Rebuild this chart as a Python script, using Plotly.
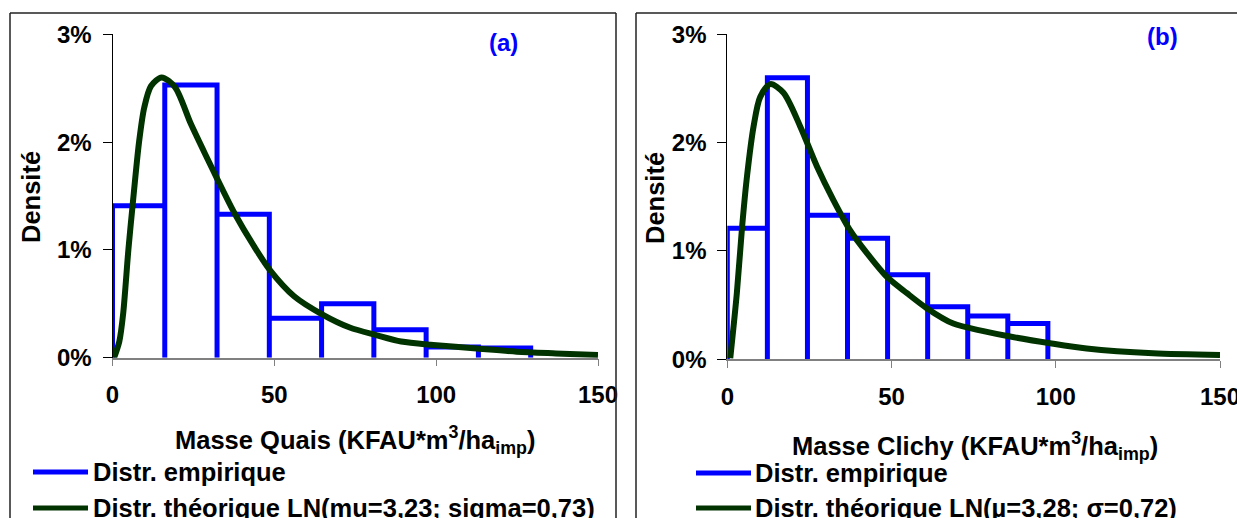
import plotly.graph_objects as go

W, H = 1237, 518

# ---------------- data ----------------
edges_a = [0, 16.15, 32.3, 48.45, 64.6, 80.75, 96.9, 113.05, 129.2]
dens_a = [0.0141, 0.0253, 0.0133, 0.00365, 0.0050, 0.0026, 0.0010, 0.0009]

edges_b = [0, 12.2, 24.4, 36.6, 48.8, 61.0, 73.2, 85.4, 97.6]
dens_b = [0.0121, 0.0260, 0.0133, 0.01117, 0.0078, 0.00486, 0.0040, 0.0033]

curve_a_x = [0.5, 2.1, 3.3, 4.9, 6.2, 8.2, 9.8, 11.9, 15.2, 19.3, 24.2, 29.1, 32.5,
             37.7, 43.8, 48.7, 56.1, 64.9, 73.3, 81.4, 89.2, 99.1, 112.5, 124.9, 137, 150]
curve_a_y = [0.0000, 0.0015, 0.0041, 0.0100, 0.0141, 0.0200, 0.0232, 0.0252, 0.0260,
             0.0251, 0.0217, 0.0186, 0.0165, 0.0134, 0.0103, 0.0081, 0.0057, 0.0040,
             0.0028, 0.0021, 0.0015, 0.00118, 0.00085, 0.00056, 0.0004, 0.00025]

curve_b_x = [0.9, 2.9, 4.5, 6.0, 8.0, 10.0, 13.1, 17.1, 22.2, 27.3, 32.3, 37.4, 42.5,
             48.6, 54.7, 60.8, 68.8, 78.0, 86.1, 98.3, 109.4, 129.6, 150]
curve_b_y = [0.0001, 0.0061, 0.0122, 0.0169, 0.0215, 0.0242, 0.0254, 0.0246, 0.0215,
             0.0178, 0.0147, 0.0119, 0.0098, 0.0076, 0.0061, 0.0047, 0.0033, 0.0026,
             0.0021, 0.00148, 0.0010, 0.00055, 0.0004]

x_ticks = [0, 50, 100, 150]
y_ticks = [0, 0.01, 0.02, 0.03]

label_a = "(a)"
label_b = "(b)"
xtitle_a = "Masse Quais (KFAU*m<sup>3</sup>/ha<sub>imp</sub>)"
xtitle_b = "Masse Clichy (KFAU*m<sup>3</sup>/ha<sub>imp</sub>)"
ytitle = "Densité"
leg_emp = "Distr. empirique"
leg_th_a = "Distr. théorique LN(mu=3,23; sigma=0,73)"
leg_th_b = "Distr. théorique LN(µ=3,28; σ=0,72)"

BLUE = "#0000FF"
GREEN = "#003300"
FONT = "Liberation Sans, Arial, sans-serif"


def step_path(edges, dens):
    xs, ys = [edges[0]], [0]
    for i, d in enumerate(dens):
        xs += [edges[i], edges[i + 1], edges[i + 1]]
        ys += [d, d, 0]
    return xs, ys


def px(x):
    return x / W


def py(y):
    return 1 - y / H


fig = go.Figure()

ha_x, ha_y = step_path(edges_a, dens_a)
hb_x, hb_y = step_path(edges_b, dens_b)

fig.add_trace(go.Scatter(x=ha_x, y=ha_y, mode="lines", line=dict(color=BLUE, width=5),
                         xaxis="x", yaxis="y", cliponaxis=False, showlegend=False))
fig.add_trace(go.Scatter(x=curve_a_x, y=curve_a_y, mode="lines",
                         line=dict(color=GREEN, width=6, shape="spline", smoothing=0.8),
                         xaxis="x", yaxis="y", cliponaxis=False, showlegend=False))
fig.add_trace(go.Scatter(x=hb_x, y=hb_y, mode="lines", line=dict(color=BLUE, width=5),
                         xaxis="x2", yaxis="y2", cliponaxis=False, showlegend=False))
fig.add_trace(go.Scatter(x=curve_b_x, y=curve_b_y, mode="lines",
                         line=dict(color=GREEN, width=6, shape="spline", smoothing=0.8),
                         xaxis="x2", yaxis="y2", cliponaxis=False, showlegend=False))

tickfont = dict(family=FONT, size=24, color="black", weight="bold")

xa_common = dict(range=[0, 150], tickvals=x_ticks, ticks="outside", ticklen=7,
                 tickcolor="#808080", showline=True, linecolor="#808080", linewidth=1.5,
                 showgrid=False, zeroline=False, tickfont=tickfont, ticklabelstandoff=8,
                 ticklabeloverflow="allow", fixedrange=True, automargin=False)
ya_common = dict(range=[0, 0.03], tickvals=y_ticks, tickformat=".0%", ticks="outside",
                 ticklen=9, tickcolor="black", showline=True, linecolor="black",
                 linewidth=1, showgrid=False, zeroline=False, tickfont=tickfont,
                 ticklabelstandoff=6, ticklabeloverflow="allow", fixedrange=True,
                 automargin=False)

fig.update_layout(
    width=W, height=H,
    autosize=False,
    margin=dict(l=0, r=0, t=0, b=0, pad=0, autoexpand=False),
    paper_bgcolor="white", plot_bgcolor="white",
    showlegend=False,
    xaxis=dict(domain=[px(112.5), px(598)], anchor="y", **xa_common),
    yaxis=dict(domain=[py(357.7), py(34.3)], anchor="x", **ya_common),
    xaxis2=dict(domain=[px(727.3), px(1220)], anchor="y2", **xa_common),
    yaxis2=dict(domain=[py(359.3), py(34.3)], anchor="x2", **ya_common),
)

shapes = []
# frames
fr = dict(type="line", xref="paper", yref="paper", line=dict(color="#222222", width=1.5))
shapes.append(dict(fr, x0=px(10), x1=px(10), y0=py(13), y1=py(530)))
shapes.append(dict(fr, x0=px(10), x1=px(616), y0=py(13), y1=py(13)))
shapes.append(dict(fr, x0=px(616), x1=px(616), y0=py(13), y1=py(530)))
shapes.append(dict(fr, x0=px(636), x1=px(636), y0=py(13), y1=py(530)))
shapes.append(dict(fr, x0=px(636), x1=px(1245), y0=py(13), y1=py(13)))

# legend glyphs
def leg_line(x0, x1, y, color):
    return dict(type="line", xref="paper", yref="paper", x0=px(x0), x1=px(x1),
                y0=py(y), y1=py(y), line=dict(color=color, width=5))

shapes += [leg_line(33, 88, 472, BLUE), leg_line(33, 88, 508, GREEN),
           leg_line(696, 751, 473, BLUE), leg_line(696, 751, 508, GREEN)]
fig.update_layout(shapes=shapes)

def ann(text, x, y, xanchor="center", yanchor="middle", color="black", size=25.5, angle=0):
    return dict(text=text, x=px(x), y=py(y), xref="paper", yref="paper",
                xanchor=xanchor, yanchor=yanchor, showarrow=False, textangle=angle,
                font=dict(family=FONT, size=size, color=color, weight="bold"))

annotations = [
    ann(label_a, 503, 43, color=BLUE, size=24),
    ann(label_b, 1162, 37, color=BLUE, size=24),
    ann(xtitle_a, 355, 440),
    ann(xtitle_b, 975, 446),
    ann(ytitle, 31, 197, angle=-90),
    ann(ytitle, 655, 198, angle=-90),
    ann(leg_emp, 91, 472, xanchor="left"),
    ann(leg_th_a, 91, 508, xanchor="left"),
    ann(leg_emp, 753, 473, xanchor="left"),
    ann(leg_th_b, 753, 508, xanchor="left"),
]
fig.update_layout(annotations=annotations)

fig.write_html("out.html", config={"displayModeBar": False},
               post_script="document.body.style.margin='0';")
